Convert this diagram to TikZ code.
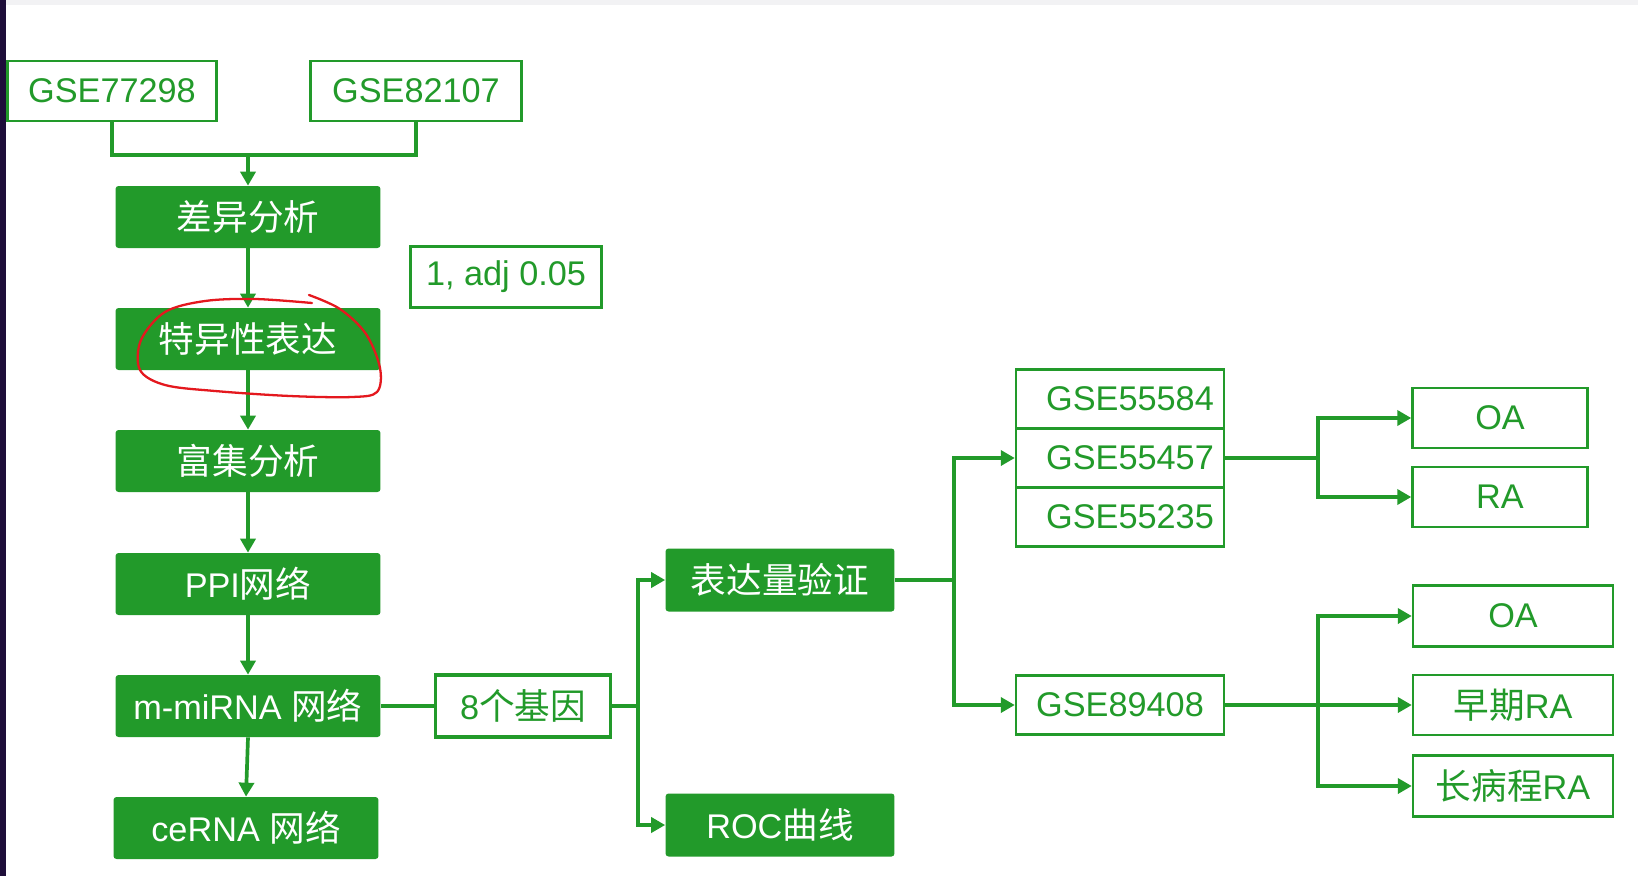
\documentclass[tikz,border=0pt]{standalone}
\usepackage{fontspec}
\setmainfont{Liberation Sans}
\newfontfamily\cjk[Scale=1.04]{Noto Sans CJK SC}
\usetikzlibrary{arrows.meta,calc,positioning}
\definecolor{flowgreen}{RGB}{34,154,42}
\definecolor{edgepurple}{RGB}{30,14,58}
\definecolor{topgray}{RGB}{242,242,244}
\definecolor{penred}{RGB}{228,24,30}
\newcommand{\boxfont}{\fontsize{19.5pt}{22pt}\selectfont}
\tikzset{
  >={Triangle[length=2.8mm,width=3.0mm]},
  flow/.style={->,draw=flowgreen,line width=2.1pt},
  flowline/.style={draw=flowgreen,line width=2.1pt},
  heavy/.style={line width=2.7pt},
  stepfill/.style={
    fill=flowgreen,
    rounded corners=0.6mm,
    text=white,
    minimum width=5.3cm,
    minimum height=1.24cm,
    inner sep=0pt,
    font=\boxfont
  },
  databox/.style={
    draw=flowgreen,
    fill=white,
    line width=1.4pt,
    text=flowgreen,
    inner sep=0pt,
    font=\boxfont
  }
}

\begin{document}
\begin{tikzpicture}[x=0.02cm,y=-0.02cm]
  \fill[white] (0,0) rectangle (1638,876);
  \useasboundingbox (0,0) rectangle (1638,876);
  \fill[edgepurple] (0,0) rectangle (6,876);
  \fill[topgray] (6,0) rectangle (1638,5);

  % Input series
  \node[databox,minimum width=4.18cm,minimum height=1.2cm] (g77298) at (112,91) {GSE77298};
  \node[databox,minimum width=4.22cm,minimum height=1.2cm] (g82107) at (416,91) {GSE82107};

  % Main pipeline
  \node[stepfill] (diff) at (248,217) {\cjk 差异分析};
  \node[stepfill] (spec) at (248,339) {\cjk 特异性表达};
  \node[stepfill] (enrich) at (248,461) {\cjk 富集分析};
  \node[stepfill] (ppi) at (248,584) {PPI\cjk 网络};
  \node[stepfill] (mirna) at (248,706) {m-miRNA {\cjk 网络}};
  \node[stepfill] (cerna) at (246,828) {ceRNA {\cjk 网络}};

  \node[databox,minimum width=3.82cm,minimum height=1.22cm] (adj) at (506,277) {1, adj 0.05};

  \coordinate (merge) at (248,155);
  \draw[flowline] (g77298.south) |- (merge) -| (g82107.south);
  \draw[flow] (merge) -- (diff.north);
  \foreach \a/\b in {diff/spec,spec/enrich,enrich/ppi,ppi/mirna,mirna/cerna} {
    \draw[flow] (\a.south) -- (\b.north);
  }

  % Hub genes and validation
  \node[databox,line width=2.2pt,minimum width=3.5cm,minimum height=1.24cm] (genes) at (523,706) {8{\cjk 个基因}};
  \node[stepfill,minimum width=4.58cm,minimum height=1.26cm] (expr) at (780,580) {\cjk 表达量验证};
  \node[stepfill,minimum width=4.58cm,minimum height=1.26cm] (roc) at (780,825) {ROC\cjk 曲线};

  \draw[flowline] (mirna.east) -- (genes.west);
  \coordinate (genesfork) at (638,706);
  \draw[flowline] (genes.east) -- (genesfork);
  \draw[flow] (genesfork) |- (expr.west);
  \draw[flow] (genesfork) |- (roc.west);

  % Validation series
  \node[databox,minimum width=4.16cm,minimum height=1.18cm] (g55584) at (1120,399) {\hspace{0.4cm}GSE55584};
  \node[databox,minimum width=4.16cm,minimum height=1.18cm] (g55457) at (1120,458) {\hspace{0.4cm}GSE55457};
  \node[databox,minimum width=4.16cm,minimum height=1.18cm] (g55235) at (1120,517) {\hspace{0.4cm}GSE55235};
  \node[databox,minimum width=4.16cm,minimum height=1.18cm] (g89408) at (1120,705) {GSE89408};

  \coordinate (exprfork) at (954,580);
  \draw[flowline] (expr.east) -- (exprfork);
  \draw[flow] (exprfork) |- (g55457.west);
  \draw[flow] (exprfork) |- (g89408.west);

  % Disease groups
  \node[databox,minimum width=3.5cm,minimum height=1.2cm] (oa1) at (1500,418) {OA};
  \node[databox,minimum width=3.5cm,minimum height=1.2cm] (ra) at (1500,497) {RA};
  \node[databox,minimum width=4.0cm,minimum height=1.22cm] (oa2) at (1513,616) {OA};
  \node[databox,minimum width=4.0cm,minimum height=1.2cm] (early) at (1513,705) {{\cjk 早期}RA};
  \node[databox,minimum width=4.0cm,minimum height=1.22cm] (long) at (1513,786) {{\cjk 长病程}RA};

  \coordinate (stackfork) at (1318,458);
  \draw[flowline,heavy] (g55457.east) -- (stackfork);
  \draw[flow,heavy] (stackfork) |- (oa1.west);
  \draw[flow,heavy] (stackfork) |- (ra.west);

  \coordinate (lowfork) at (1318,705);
  \draw[flowline,heavy] (g89408.east) -- (lowfork);
  \draw[flow,heavy] (lowfork) |- (oa2.west);
  \draw[flow,heavy] (lowfork) -- (early.west);
  \draw[flow,heavy] (lowfork) |- (long.west);

  % Hand-drawn mark
  \draw[penred,line width=1.3pt,line cap=round]
    plot[smooth,tension=0.55] coordinates {
      (309,295) (340,309) (366,334) (380,368) (377,392) (352,397)
      (290,396) (215,391) (165,385) (140,370) (141,340) (165,312)
      (205,301) (255,299) (312,303)
    };
\end{tikzpicture}
\end{document}
